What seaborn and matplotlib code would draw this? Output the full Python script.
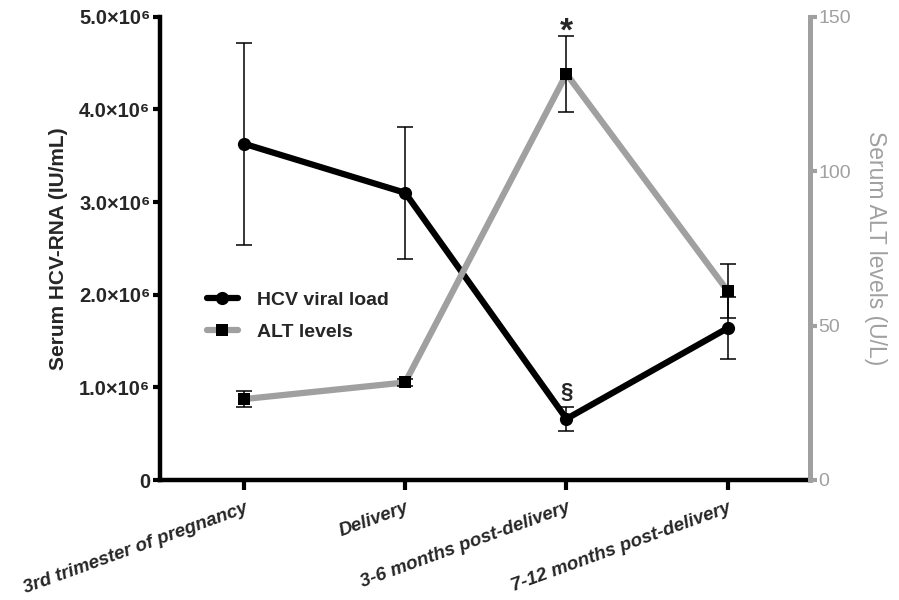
import numpy as np
import pandas as pd
import matplotlib
matplotlib.use("Agg")
import matplotlib.pyplot as plt
import seaborn as sns
from matplotlib.lines import Line2D

categories = ["3rd trimester of pregnancy", "Delivery",
              "3-6 months post-delivery", "7-12 months post-delivery"]
hcv_mean = [3.63e6, 3.10e6, 0.66e6, 1.64e6]
hcv_err = [1.09e6, 0.71e6, 0.13e6, 0.33e6]
alt_mean = [26.2, 31.6, 131.5, 61.2]
alt_err = [2.6, 1.0, 12.3, 8.8]
hcv_ticks = [0, 1e6, 2e6, 3e6, 4e6, 5e6]
hcv_tick_labels = ["0", "1.0×10⁶", "2.0×10⁶", "3.0×10⁶", "4.0×10⁶", "5.0×10⁶"]
alt_ticks = [0, 50, 100, 150]

sns.set_style("white")
plt.rcParams['font.family'] = ['Liberation Sans', 'DejaVu Sans']

GRAY = "#a0a0a0"
x = np.arange(len(categories))
df_h = pd.DataFrame({"x": x, "v": hcv_mean})
df_a = pd.DataFrame({"x": x, "v": alt_mean})

fig = plt.figure(figsize=(8.99, 6.0), dpi=100)
ax = fig.add_axes([0.178, 0.2, 0.723, 0.772])
ax2 = ax.twinx()

sns.lineplot(data=df_h, x="x", y="v", ax=ax, color="black", lw=4.5,
             marker="o", markersize=9.5, markeredgewidth=0, zorder=3)
ax.errorbar(x, hcv_mean, yerr=hcv_err, fmt="none", ecolor="black",
            elinewidth=1.1, capsize=6, capthick=1.1, zorder=4)

sns.lineplot(data=df_a, x="x", y="v", ax=ax2, color=GRAY, lw=4.5,
             marker="s", markersize=9, markerfacecolor="black",
             markeredgewidth=0, zorder=3)
ax2.errorbar(x, alt_mean, yerr=alt_err, fmt="none", ecolor="black",
             elinewidth=1.1, capsize=6, capthick=1.1, zorder=4)

ax.set_xlim(-0.52, 3.51)
ax.set_ylim(0, 5e6)
ax2.set_ylim(0, 150)

ax.set_yticks(hcv_ticks)
ax.set_yticklabels(hcv_tick_labels, fontsize=14.5, fontweight="bold")
ax2.set_yticks(alt_ticks)
ax2.set_yticklabels([str(t) for t in alt_ticks], fontsize=14, color=GRAY)

ax.set_xticks(x)
ax.set_xticklabels(categories, rotation=20, ha="right", rotation_mode="anchor",
                   fontsize=13.5, fontweight="bold", fontstyle="italic")

ax.set_xlabel("")
ax.set_ylabel("Serum HCV-RNA (IU/mL)", fontsize=15, fontweight="bold", labelpad=8)
ax2.set_ylabel("Serum ALT levels (U/L)", fontsize=16.5, color=GRAY, rotation=270,
               labelpad=26)
ax2.set_xlabel("")

for a in (ax, ax2):
    a.spines["top"].set_visible(False)
    a.grid(False)
ax.spines["right"].set_visible(False)
ax2.spines["left"].set_visible(False)
ax2.spines["bottom"].set_visible(False)
ax.spines["left"].set_linewidth(3.2)
ax.spines["bottom"].set_linewidth(3.2)
ax.spines["left"].set_color("black")
ax.spines["bottom"].set_color("black")
ax2.spines["right"].set_linewidth(3.6)
ax2.spines["right"].set_color(GRAY)

ax.tick_params(axis="y", left=True, direction="out", length=5, width=3, color="black", pad=2)
ax.tick_params(axis="x", bottom=True, direction="out", length=7, width=3, color="black", pad=7)
ax2.tick_params(axis="y", right=True, direction="out", length=5, width=3, color=GRAY, pad=1)

ax2.text(2, 140.0, "*", ha="center", va="bottom", fontsize=24, fontweight="bold")
ax.text(2, 0.83e6, "§", ha="center", va="bottom", fontsize=16, fontweight="bold")

handles = [
    Line2D([], [], color="black", lw=4.5, marker="o", markersize=9.5, markeredgewidth=0),
    Line2D([], [], color=GRAY, lw=4.5, marker="s", markersize=9,
           markerfacecolor="black", markeredgewidth=0),
]
ax.legend(handles, ["HCV viral load", "ALT levels"], loc="upper left",
          bbox_to_anchor=(0.045, 0.445), frameon=False, handlelength=1.6,
          handletextpad=1.0, labelspacing=0.75,
          prop={"weight": "bold", "size": 14})
if ax2.get_legend() is not None:
    ax2.get_legend().remove()

fig.savefig("out.png", dpi=100)
